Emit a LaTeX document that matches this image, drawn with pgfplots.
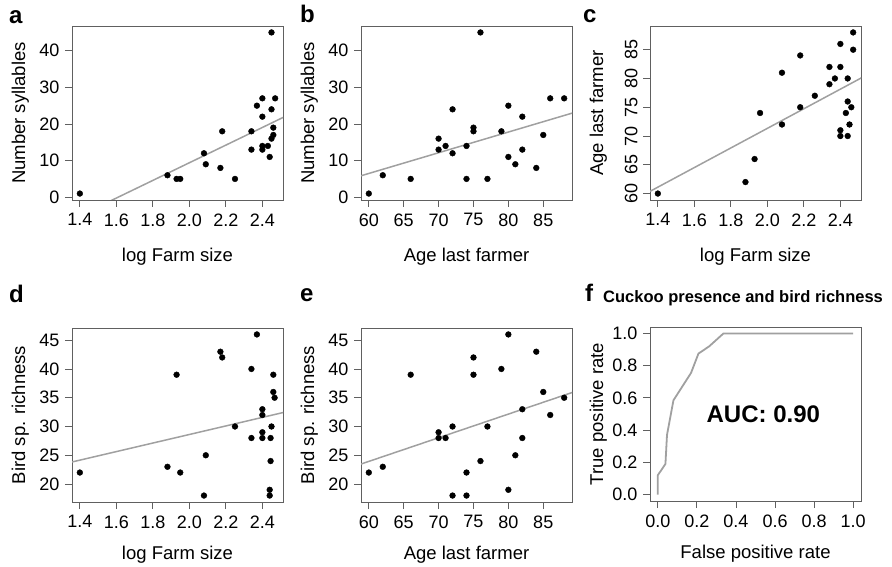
\documentclass[border=0pt]{standalone}
\usepackage{pgfplots}
\pgfplotsset{compat=1.18}
\usepackage{fontspec}
\setmainfont{Liberation Sans}
\definecolor{boxgray}{HTML}{606060}
\definecolor{fitgray}{HTML}{A0A0A0}
\newcommand{\labfont}{\fontsize{18.5bp}{20bp}\selectfont}
\pgfplotsset{
  rstyle/.style={
    scale only axis, width=211bp, height=174bp,
    anchor=south west,
    axis line style={boxgray, line width=0.9bp},
    every tick/.style={boxgray, line width=0.9bp},
    tick align=outside, major tick length=7bp,
    tick pos=left,
    clip mode=individual,
    /pgf/number format/assume math mode=true,
    ticklabel style={font=\fontsize{18bp}{20bp}\selectfont, text=black},
    xticklabel shift=3bp, yticklabel shift=2bp,
    every axis x label/.style={at={(axis description cs:0.5,-0.3563)}, anchor=base, font=\labfont},
    every axis y label/.style={at={(axis description cs:-0.2227,0.5)}, anchor=base, rotate=90, font=\labfont},
  },
  pts/.style={only marks, mark=*, mark size=2.9bp, black},
  fit/.style={fitgray, line width=1.5bp, no marks},
  lowrow/.style={every axis x label/.style={at={(axis description cs:0.5,-0.328)}, anchor=base, font=\labfont}},
  farmx/.style={xmin=1.357, xmax=2.513, xtick={1.4,1.6,...,2.45},
    xticklabel style={/pgf/number format/.cd, fixed, fixed zerofill, precision=1}},
  agex/.style={xmin=58.88, xmax=89.12, xtick={60,65,...,85}},
}
\begin{document}
\begin{tikzpicture}
\useasboundingbox (0,0) rectangle (892bp,567bp);
% panel a
\begin{axis}[rstyle, farmx, at={(72bp,367bp)},
  ymin=-0.76, ymax=46.76, ytick={0,10,...,40},
  xlabel={log Farm size}, ylabel={Number syllables}]
\addplot[fit] coordinates {(1.5,-2.64) (2.6,23.87)};
\addplot[pts] coordinates {(1.40,1) (1.88,6) (1.93,5) (1.95,5) (2.08,12) (2.09,9) (2.17,8) (2.18,18) (2.25,5) (2.34,13) (2.34,18) (2.37,25) (2.40,27) (2.40,22) (2.40,14) (2.40,13) (2.43,14) (2.44,11) (2.45,45) (2.45,24) (2.45,16) (2.46,19) (2.46,17) (2.47,27)};
\end{axis}
% panel b
\begin{axis}[rstyle, agex, at={(361bp,367bp)},
  ymin=-0.76, ymax=46.76, ytick={0,10,...,40},
  xlabel={Age last farmer}, ylabel={Number syllables}]
\addplot[fit] coordinates {(55,3.66) (95,26.28)};
\addplot[pts] coordinates {(60,1) (62,6) (66,5) (70,16) (70,13) (71,14) (72,24) (72,12) (74,14) (74,5) (75,19) (75,18) (76,45) (77,5) (79,18) (80,25) (80,11) (81,9) (82,22) (82,13) (84,8) (85,17) (86,27) (88,27)};
\end{axis}
% panel c
\begin{axis}[rstyle, farmx, at={(650bp,367bp)},
  ymin=58.88, ymax=89.12, ytick={60,65,...,85},
  yticklabel style={rotate=90, anchor=south},
  xlabel={log Farm size}, ylabel={Age last farmer}]
\addplot[fit] coordinates {(1.3,59.41) (2.6,81.55)};
\addplot[pts] coordinates {(1.40,60) (1.88,62) (1.93,66) (1.96,74) (2.08,72) (2.08,81) (2.18,75) (2.18,84) (2.26,77) (2.34,82) (2.34,79) (2.37,80) (2.40,86) (2.40,82) (2.40,71) (2.40,70) (2.43,74) (2.44,80) (2.44,70) (2.44,76) (2.45,72) (2.46,75) (2.47,88) (2.47,85)};
\end{axis}
% panel d
\begin{axis}[rstyle, farmx, lowrow, at={(72bp,65bp)},
  ymin=16.88, ymax=47.12, ytick={20,25,...,45},
  xlabel={log Farm size}, ylabel={Bird sp. richness}]
\addplot[fit] coordinates {(1.3,23.41) (2.6,33.07)};
\addplot[pts] coordinates {(1.40,22) (1.88,23) (1.93,39) (1.95,22) (2.08,18) (2.09,25) (2.17,43) (2.18,42) (2.25,30) (2.34,40) (2.34,28) (2.37,46) (2.40,33) (2.40,32) (2.40,29) (2.40,28) (2.44,18) (2.44,19) (2.445,28) (2.445,24) (2.45,30) (2.46,39) (2.46,36) (2.467,35)};
\end{axis}
% panel e
\begin{axis}[rstyle, agex, lowrow, at={(361bp,65bp)},
  ymin=16.88, ymax=47.12, ytick={20,25,...,45},
  xlabel={Age last farmer}, ylabel={Bird sp. richness}]
\addplot[fit] coordinates {(55,21.88) (95,38.32)};
\addplot[pts] coordinates {(60,22) (62,23) (66,39) (70,29) (70,28) (71,28) (72,30) (72,18) (74,22) (74,18) (75,42) (75,39) (76,24) (77,30) (79,40) (80,46) (80,19) (81,25) (82,33) (82,28) (84,43) (85,36) (86,32) (88,35)};
\end{axis}
% panel f
\begin{axis}[rstyle, lowrow, at={(650bp,66bp)},
  xmin=-0.04, xmax=1.04, ymin=-0.04, ymax=1.04,
  xtick={0,0.2,...,1.01}, ytick={0,0.2,...,1.01},
  ticklabel style={/pgf/number format/.cd, fixed, fixed zerofill, precision=1},
  xlabel={False positive rate}, ylabel={True positive rate}]
\addplot[fitgray, line width=1.8bp, no marks] coordinates {(0,0) (0,0.12) (0.039,0.19) (0.047,0.37) (0.08,0.585) (0.17,0.755) (0.208,0.875) (0.263,0.92) (0.336,1.0) (1,1)};
\node[font=\bfseries\fontsize{24bp}{26bp}\selectfont, anchor=base, inner sep=0] at (axis cs:0.54,0.45) {AUC: 0.90};
\end{axis}
% panel letters and title
\node[anchor=base west, inner sep=0, font=\bfseries\fontsize{24bp}{26bp}\selectfont] at (9bp,543bp) {a};
\node[anchor=base west, inner sep=0, font=\bfseries\fontsize{24bp}{26bp}\selectfont] at (300bp,544bp) {b};
\node[anchor=base west, inner sep=0, font=\bfseries\fontsize{24bp}{26bp}\selectfont] at (583bp,544bp) {c};
\node[anchor=base west, inner sep=0, font=\bfseries\fontsize{24bp}{26bp}\selectfont] at (9bp,264bp) {d};
\node[anchor=base west, inner sep=0, font=\bfseries\fontsize{24bp}{26bp}\selectfont] at (300bp,265bp) {e};
\node[anchor=base west, inner sep=0, font=\bfseries\fontsize{24bp}{26bp}\selectfont] at (585bp,265bp) {f};
\node[anchor=base west, inner sep=0, font=\bfseries\fontsize{16.5bp}{18bp}\selectfont] at (603bp,264bp) {Cuckoo presence and bird richness};
\end{tikzpicture}
\end{document}
